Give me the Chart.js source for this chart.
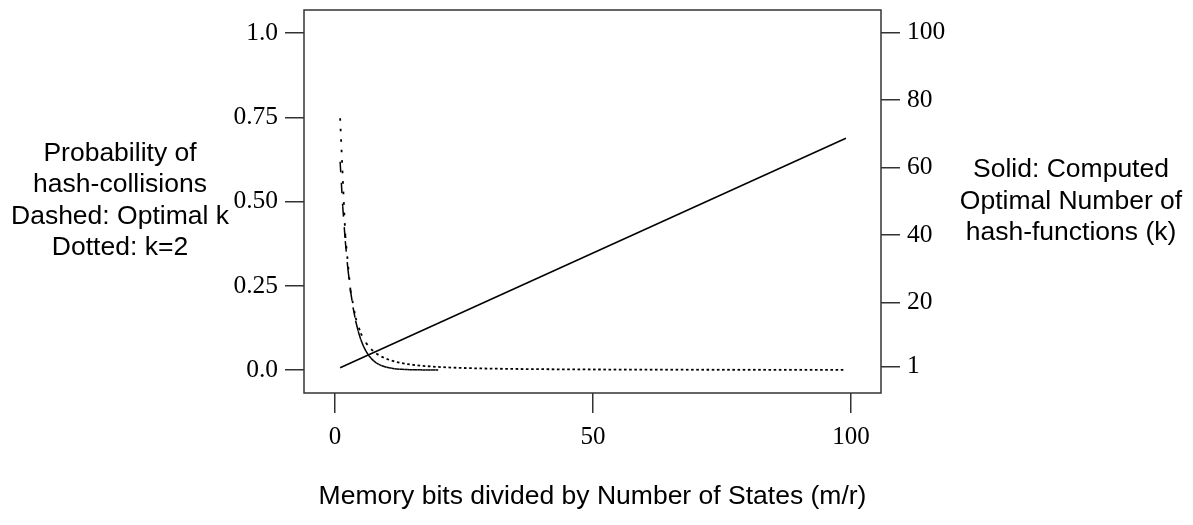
<!DOCTYPE html>
<html>
<head>
<meta charset="utf-8">
<script src="https://cdn.jsdelivr.net/npm/chart.js@4/dist/chart.umd.min.js"></script>
<style>
html,body{margin:0;padding:0;background:#fff;}
#wrap{width:1193px;height:525px;position:relative;}
</style>
</head>
<body>
<div id="wrap"><canvas id="c" width="1193" height="525"></canvas></div>
<script>
// ---- data ----
// dotted curve: probability of hash collisions with k = 2, m/r = 1..99
const ratioDotted = [1,2,3,4,5,6,7,8,9,10,11,12,13,14,15,16,17,18,19,20,21,22,23,24,25,26,27,28,29,30,31,32,33,34,35,36,37,38,39,40,41,42,43,44,45,46,47,48,49,50,51,52,53,54,55,56,57,58,59,60,61,62,63,64,65,66,67,68,69,70,71,72,73,74,75,76,77,78,79,80,81,82,83,84,85,86,87,88,89,90,91,92,93,94,95,96,97,98,99];
const probDotted  = [0.7477,0.3996,0.2368,0.1548,0.1087,0.0804,0.0618,0.0489,0.0397,0.0329,0.0276,0.0236,0.0203,0.0177,0.0156,0.0138,0.0123,0.0111,0.0100,0.0091,0.0083,0.0076,0.0069,0.0064,0.0059,0.0055,0.0051,0.0048,0.0044,0.0042,0.0039,0.0037,0.0035,0.0033,0.0031,0.0029,0.0028,0.0026,0.0025,0.0024,0.0023,0.0022,0.0021,0.0020,0.0019,0.0018,0.0017,0.0017,0.0016,0.0015,0.0015,0.0014,0.0014,0.0013,0.0013,0.0012,0.0012,0.0011,0.0011,0.0011,0.0010,0.0010,0.0010,0.0009,0.0009,0.0009,0.0009,0.0008,0.0008,0.0008,0.0008,0.0008,0.0007,0.0007,0.0007,0.0007,0.0007,0.0006,0.0006,0.0006,0.0006,0.0006,0.0006,0.0006,0.0005,0.0005,0.0005,0.0005,0.0005,0.0005,0.0005,0.0005,0.0005,0.0004,0.0004,0.0004,0.0004,0.0004,0.0004];
// dashed curve: probability with the optimal k
const ratioDashed = [1,1.5,2,2.5,3,3.5,4,4.5,5,5.5,6,6.5,7,7.5,8,8.5,9,9.5,10,10.5,11,11.5,12,12.5,13,13.5,14,14.5,15,15.5,16,16.5,17,17.5,18,18.5,19,19.5,20];
const probDashed  = [0.6185,0.4864,0.3825,0.3008,0.2366,0.1861,0.1463,0.1151,0.0905,0.0712,0.0560,0.0440,0.0346,0.0272,0.0214,0.0168,0.0132,0.0104,0.0082,0.0064,0.0051,0.0040,0.0031,0.0025,0.0019,0.0015,0.0012,0.0009,0.0007,0.0006,0.0005,0.0004,0.0003,0.0002,0.0002,0.0001,0.0001,0.0001,0.0001];
// solid line: computed optimal number of hash functions
const ratioSolid  = [1,99];
const kSolid      = [0.69,68.62];

const xTicks  = [0,50,100];
const yLTicks = [0,0.25,0.5,0.75,1.0];
const yLLabels = ['0.0','0.25','0.50','0.75','1.0'];
const yRTicks = [1,20,40,60,80,100];

const leftTitle  = ['Probability of','hash-collisions','Dashed: Optimal k','Dotted: k=2'];
const rightTitle = ['Solid: Computed','Optimal Number of','hash-functions (k)'];
const bottomTitle = 'Memory bits divided by Number of States (m/r)';

const pts = (xs, ys) => xs.map((x,i)=>({x:x,y:ys[i]}));

const SERIF = '"Liberation Serif", "Times New Roman", serif';
const SANS = '"Liberation Sans", Arial, sans-serif';
const AXC = '#333';
// restart the dash pattern on every segment (like the original device)
const restartDash = { borderDashOffset: c => (c.p0DataIndex % 2 ? 0.001 : 0) };

const framePlugin = {
  id:'frame',
  afterDraw(chart){
    const {ctx, chartArea:a} = chart;
    ctx.save();
    ctx.strokeStyle = AXC; ctx.lineWidth = 1.5;
    ctx.strokeRect(a.left, a.top, a.right-a.left, a.bottom-a.top);
    ctx.fillStyle = '#000';
    ctx.font = '26.5px ' + SANS;
    ctx.textAlign = 'center'; ctx.textBaseline = 'middle';
    leftTitle.forEach((t,i)=>ctx.fillText(t, 120, 153.5 + i*31.5));
    rightTitle.forEach((t,i)=>ctx.fillText(t, 1071, 170 + i*31.5));
    ctx.fillText(bottomTitle, (a.left+a.right)/2, 497);
    ctx.restore();
  }
};

const noPad = s => { s.paddingTop = 0; s.paddingBottom = 0; s.paddingLeft = 0; s.paddingRight = 0; };

new Chart(document.getElementById('c'), {
  type:'line',
  data:{datasets:[
    {label:'k', data:pts(ratioSolid,kSolid), yAxisID:'yR', borderColor:'#000', borderWidth:1.5, pointRadius:0, fill:false},
    {label:'optimal', data:pts(ratioDashed,probDashed), yAxisID:'yL', borderColor:'#000', borderWidth:1.5, pointRadius:0, fill:false,
      borderDash:[10.5,10.5], tension:0, segment:restartDash},
    {label:'k=2', data:pts(ratioDotted,probDotted), yAxisID:'yL', borderColor:'#000', borderWidth:1.8, pointRadius:0, fill:false,
      borderDash:[2.6,7.9], tension:0, segment:restartDash}
  ]},
  options:{
    responsive:false, animation:false, devicePixelRatio:1,
    layout:{padding:{top:10,left:0,right:0,bottom:0}},
    plugins:{legend:{display:false}, tooltip:{enabled:false}},
    scales:{
      x:{type:'linear', position:'bottom', min:-6, max:105.8,
        afterBuildTicks: s => { s.ticks = xTicks.map(v=>({value:v})); },
        afterFit: s => { s.height = 132; noPad(s); },
        border:{display:false},
        grid:{drawOnChartArea:false, drawTicks:true, tickLength:20, color:AXC, lineWidth:1.5},
        ticks:{font:{family:SERIF, size:25}, color:'#000', padding:9, maxRotation:0, callback:v=>String(v)}},
      yL:{type:'linear', position:'left', min:-0.0683, max:1.069,
        afterBuildTicks: s => { s.ticks = yLTicks.map(v=>({value:v})); },
        afterFit: s => { s.width = 304; noPad(s); },
        border:{display:false},
        grid:{drawOnChartArea:false, drawTicks:true, tickLength:19, color:AXC, lineWidth:1.5},
        ticks:{font:{family:SERIF, size:25.5}, color:'#000', padding:7, callback:(v)=>yLLabels[yLTicks.indexOf(v)]}},
      yR:{type:'linear', position:'right', min:-6.8, max:106.6,
        afterBuildTicks: s => { s.ticks = yRTicks.map(v=>({value:v})); },
        afterFit: s => { s.width = 312; noPad(s); },
        border:{display:false},
        grid:{drawOnChartArea:false, drawTicks:true, tickLength:19, color:AXC, lineWidth:1.5},
        ticks:{font:{family:SERIF, size:25.5}, color:'#000', padding:7, callback:v=>String(v)}}
    }
  },
  plugins:[framePlugin]
});
</script>
</body>
</html>
